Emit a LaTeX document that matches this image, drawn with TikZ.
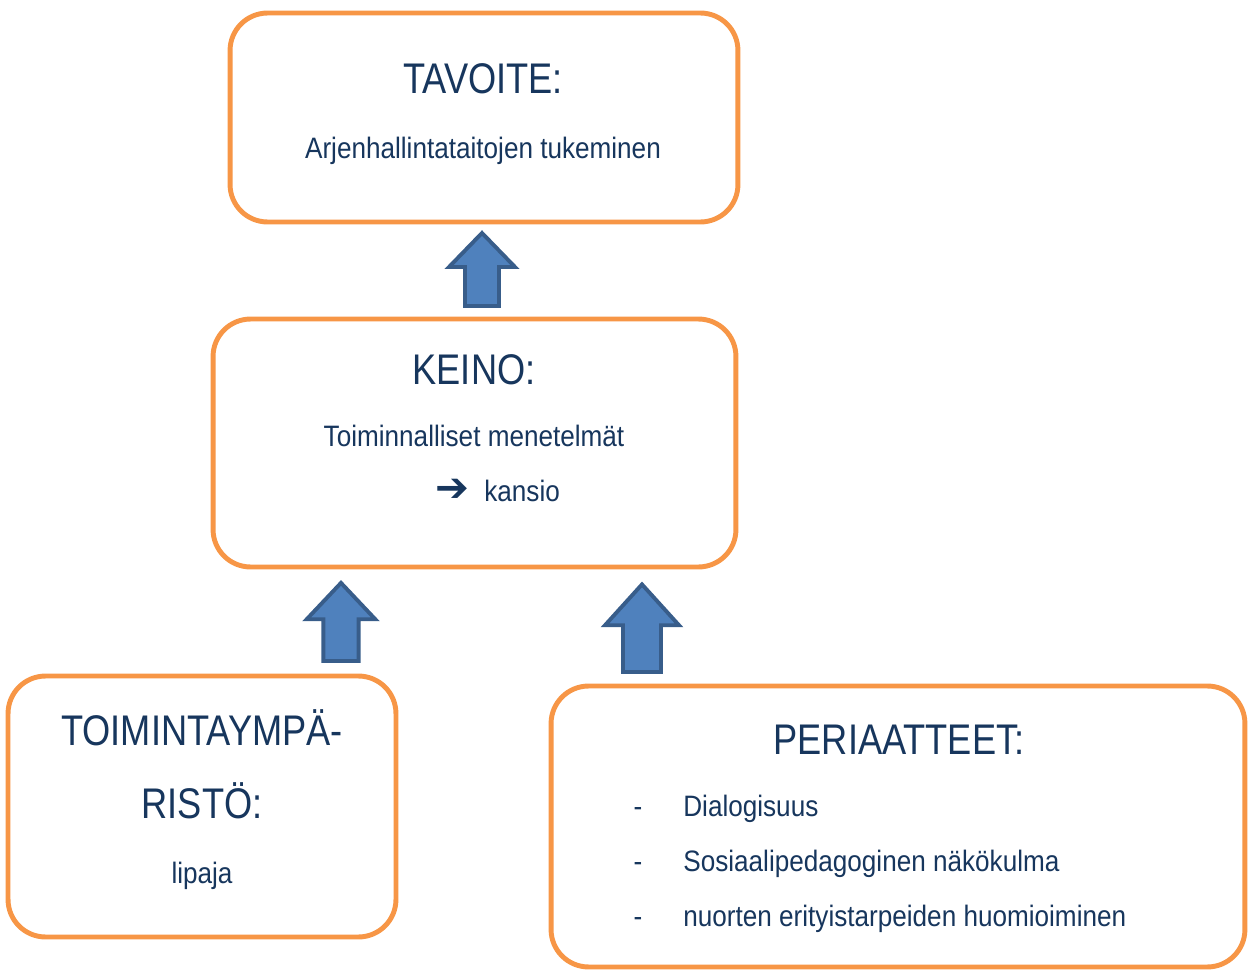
\documentclass[tikz,border=0pt]{standalone}
\usepackage{fontspec}
\setmainfont{Liberation Sans}[FakeStretch=0.885]
\newfontfamily\headfont{Liberation Sans}[FakeStretch=0.845]
\newfontfamily\symfont{DejaVu Sans Bold}
\usetikzlibrary{positioning}

\definecolor{ink}{HTML}{17365D}
\definecolor{boxline}{HTML}{F79646}
\definecolor{arrowfill}{HTML}{4F81BD}
\definecolor{arrowline}{HTML}{385D8A}

\tikzset{
  box/.style={draw=boxline, line width=2.8pt, rounded corners=0.75cm, fill=white},
  head/.style={text=ink, inner sep=0pt, font=\headfont\fontsize{24.4}{28}\selectfont},
  body/.style={text=ink, inner sep=0pt, font=\fontsize{16.8}{20}\selectfont},
  blockup/.pic={
    \draw[arrowline, fill=arrowfill, line width=2.2pt, line join=miter]
      (-17,0) -- (-17,-39) -- (-33,-39) -- (0,-73) -- (33,-39) -- (17,-39) -- (17,0) -- cycle;
  }
}

\begin{document}
\begin{tikzpicture}[x=0.02cm, y=-0.02cm]
  \useasboundingbox (0,0) rectangle (1249,970);

  % boxes
  \node[box, minimum width=10.16cm, minimum height=4.18cm] (tavoite) at (484,117.5) {};
  \node[box, minimum width=10.46cm, minimum height=4.96cm] (keino) at (474.5,443) {};
  \node[box, minimum width=7.76cm, minimum height=5.22cm] (ymparisto) at (202,806.5) {};
  \node[box, minimum width=13.88cm, minimum height=5.62cm] (periaatteet) at (898,826.5) {};

  % arrows
  \pic at (482,306) {blockup};
  \pic[xscale=1.04, yscale=1.07] at (341,661) {blockup};
  \pic[xscale=1.12, yscale=1.2] at (642,672) {blockup};

  % texts
  \node[head, anchor=base] (tavoitehead) at (483,93) {TAVOITE:};
  \node[body, anchor=base] (tavoitetext) at (483,158) {Arjenhallintataitojen tukeminen};

  \node[head, anchor=base] (keinohead) at (474,384) {KEINO:};
  \node[body, anchor=base] (keinotext) at (474,446) {Toiminnalliset menetelmät};
  \node[text=ink, inner sep=0pt, anchor=base, font=\symfont\fontsize{23}{26}\selectfont] (kansioarrow) at (452,501) {➔};
  \node[body, anchor=base west] (kansio) at (484,501) {kansio};

  \node[head, anchor=base] (ymparistohead) at (202,745) {TOIMINTAYMPÄ-};
  \node[head, anchor=base] (ymparistohead2) at (202,818) {RISTÖ:};
  \node[body, anchor=base] (lipaja) at (202,883) {lipaja};

  \node[head, anchor=base] (periaatteethead) at (899,754) {PERIAATTEET:};
  \node[body, anchor=base] (dash1) at (638,816) {-};
  \node[body, anchor=base west] (item1) at (683,816) {Dialogisuus};
  \node[body, anchor=base] (dash2) at (638,871) {-};
  \node[body, anchor=base west] (item2) at (683,871) {Sosiaalipedagoginen näkökulma};
  \node[body, anchor=base] (dash3) at (638,926) {-};
  \node[body, anchor=base west] (item3) at (683,926) {nuorten erityistarpeiden huomioiminen};
\end{tikzpicture}
\end{document}
